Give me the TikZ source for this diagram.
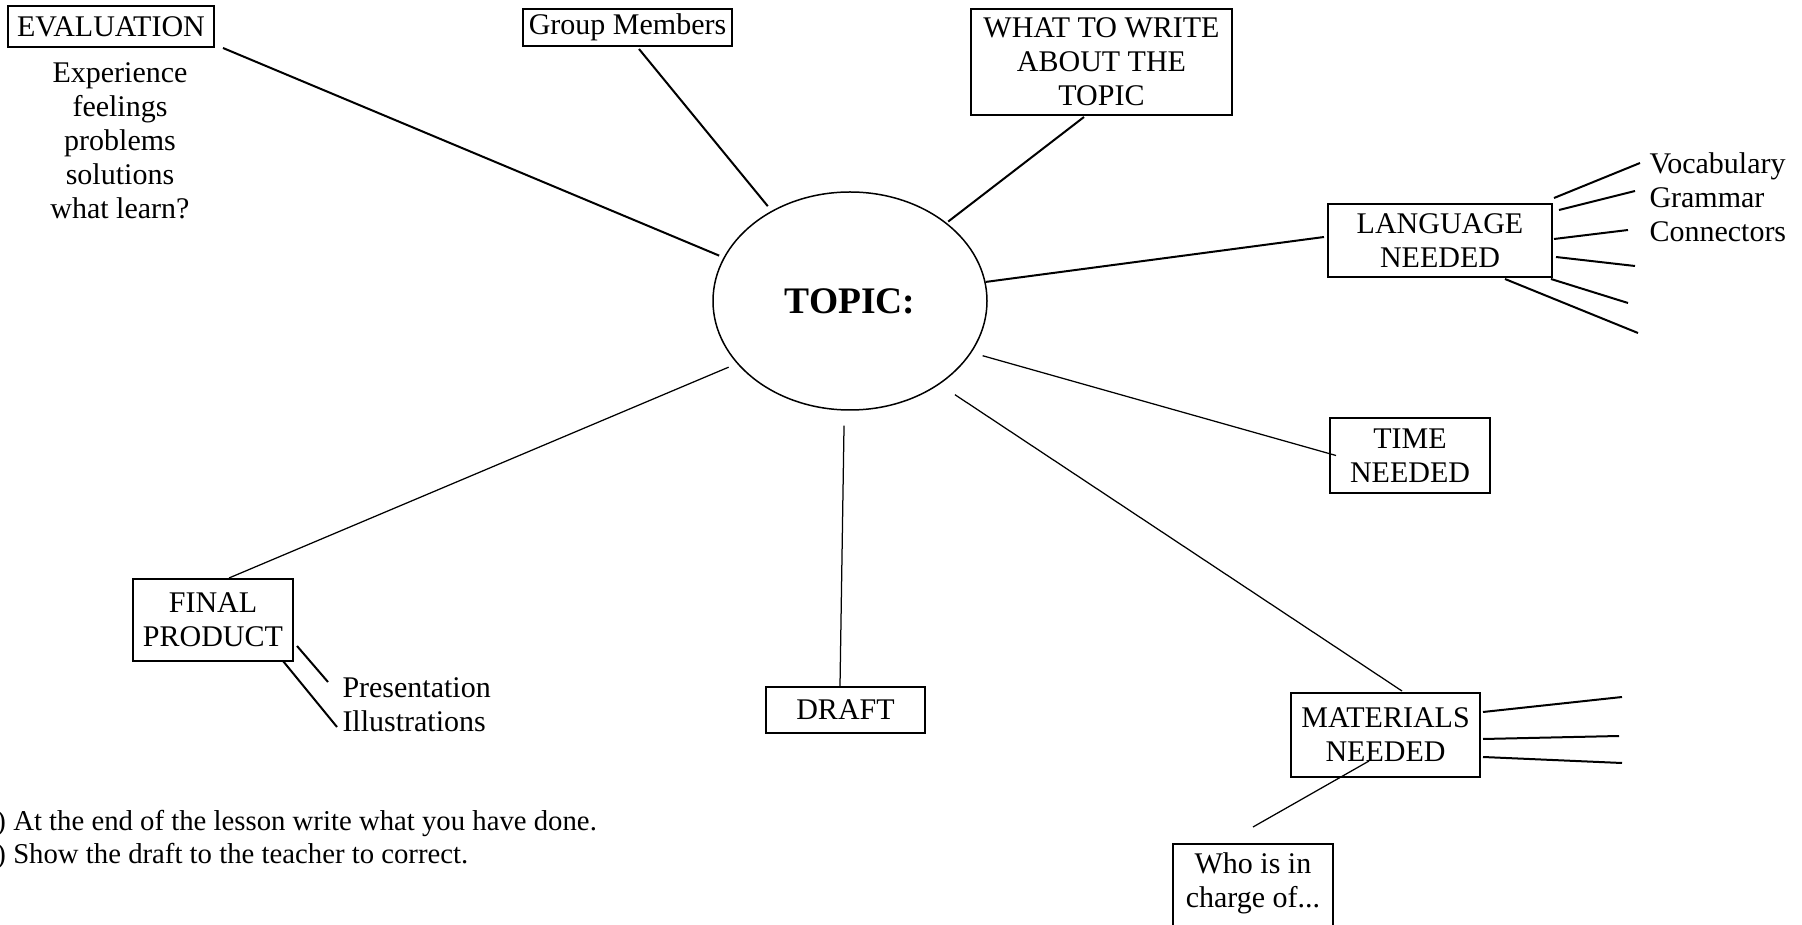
\documentclass[tikz,border=0pt]{standalone}
\usepackage{fontspec}
\setmainfont{Liberation Serif}
\usepackage{tikz}
\usetikzlibrary{shapes.geometric}

\tikzset{
	every node/.style={font=\fontsize{12}{13.6}\selectfont, inner sep=0pt},
	box/.style={draw, line width=0.8pt, align=center},
	heavy/.style={line width=0.8pt},
	light/.style={line width=0.5pt}
}

\begin{document}
\begin{tikzpicture}[x=0.4pt,y=-0.4pt]
		\useasboundingbox (0,0) rectangle (1802,925);
		\clip (0,0) rectangle (1802,925);
		
		\node[ellipse,draw,line width=0.6pt,minimum width=109.6pt,minimum height=87.2pt] (topic) at (850,301) {\fontsize{15}{18}\selectfont\bfseries TOPIC:};
		
		\node[box,minimum width=82.4pt,minimum height=16.4pt] (evaluation) at (111,26.5) {EVALUATION};
		\node[align=center] (evallist) at (120,141) {Experience\\feelings\\problems\\solutions\\what learn?};
		
		\node[box,minimum width=83.6pt,minimum height=14.8pt] (group) at (627.5,27.5) {Group Members};
		
		\node[box,minimum width=104.4pt,minimum height=42.4pt] (what) at (1101.5,62) {WHAT TO WRITE\\ABOUT THE\\TOPIC};
		
		\node[box,minimum width=89.6pt,minimum height=29.2pt] (language) at (1440,240.5) {LANGUAGE\\NEEDED};
		\node[anchor=north west,align=left] (langlist) at (1649,152) {Vocabulary\\Grammar\\Connectors};
		
		\node[box,minimum width=64pt,minimum height=30pt] (time) at (1410,455.5) {TIME\\NEEDED};
		
		\node[box,minimum width=75.6pt,minimum height=33.6pt] (materials) at (1385.5,735) {MATERIALS\\NEEDED};
		\node[box,anchor=north,minimum width=64pt,minimum height=36pt,text depth=7pt] (who) at (1253,843) {Who is in\\charge of...};
		
		\node[box,minimum width=63.6pt,minimum height=18.4pt] (draft) at (845.5,710) {DRAFT};
		
		\node[box,minimum width=64pt,minimum height=32.8pt] (final) at (213,620) {FINAL\\PRODUCT};
		\node[anchor=north west,align=left] (finlist) at (342,677) {Presentation\\Illustrations};
		
		\node[anchor=north west,align=left,font=\fontsize{11.5}{13.2}\selectfont] (notes) at (-4,810) {) At the end of the lesson write what you have done.\\) Show the draft to the teacher to correct.};
		
		\coordinate (lang1) at (1640,163);
		\coordinate (lang2) at (1635,191);
		\coordinate (lang3) at (1628,230);
		\coordinate (lang4) at (1635,266);
		\coordinate (lang5) at (1628,303);
		\coordinate (lang6) at (1638,333);
		\coordinate (mat1) at (1622,697);
		\coordinate (mat2) at (1619,736);
		\coordinate (mat3) at (1622,763);
		\coordinate (fin1) at (328,682);
		\coordinate (fin2) at (337,727);
		
		\draw[heavy,shorten <=1.9pt] (topic.161) -- ([xshift=3.2pt]evaluation.south east);
		\draw[heavy,shorten <=2.4pt] (topic.131) -- ([shift={(11.5,2)}]group.south);
		\draw[heavy,shorten <=0.8pt] (topic.39) -- ([shift={(-17.5,1)}]what.south);
		\draw[heavy] (topic.8) -- ([shift={(-3,-3.5)}]language.west);
		\draw[light,shorten <=4.6pt] (topic.337) -- ([xshift=2.8pt]time.west);
		\draw[light,shorten <=7.4pt] (topic.317) -- ([shift={(16.5,-1)}]materials.north);
		\draw[light,shorten <=6pt] (topic.267) -- ([xshift=-2.2pt]draft.north);
		\draw[light,shorten <=3.6pt] (topic.209) -- ([xshift=6.4pt]final.north);
		
		\draw[heavy] ([shift={(1,-42.5)}]language.east) -- (lang1);
		\draw[heavy] ([shift={(6,-30.5)}]language.east) -- (lang2);
		\draw[heavy] ([shift={(1,-1.5)}]language.east) -- (lang3);
		\draw[heavy] ([shift={(3,16.5)}]language.east) -- (lang4);
		\draw[heavy] ([shift={(-2,38.5)}]language.east) -- (lang5);
		\draw[heavy] ([shift={(65,1)}]language.south) -- (lang6);
		
		\draw[heavy] ([shift={(2,-23)}]materials.east) -- (mat1);
		\draw[heavy] ([shift={(2,4)}]materials.east) -- (mat2);
		\draw[heavy] ([shift={(2,22)}]materials.east) -- (mat3);
		\draw[light] ([shift={(-16.5,26)}]materials.center) -- ([yshift=6.4pt]who.north);
		
		\draw[heavy] ([shift={(3,-16)}]final.south east) -- (fin1);
		\draw[heavy] ([shift={(-11,-1)}]final.south east) -- (fin2);
	\end{tikzpicture}
\end{document}
